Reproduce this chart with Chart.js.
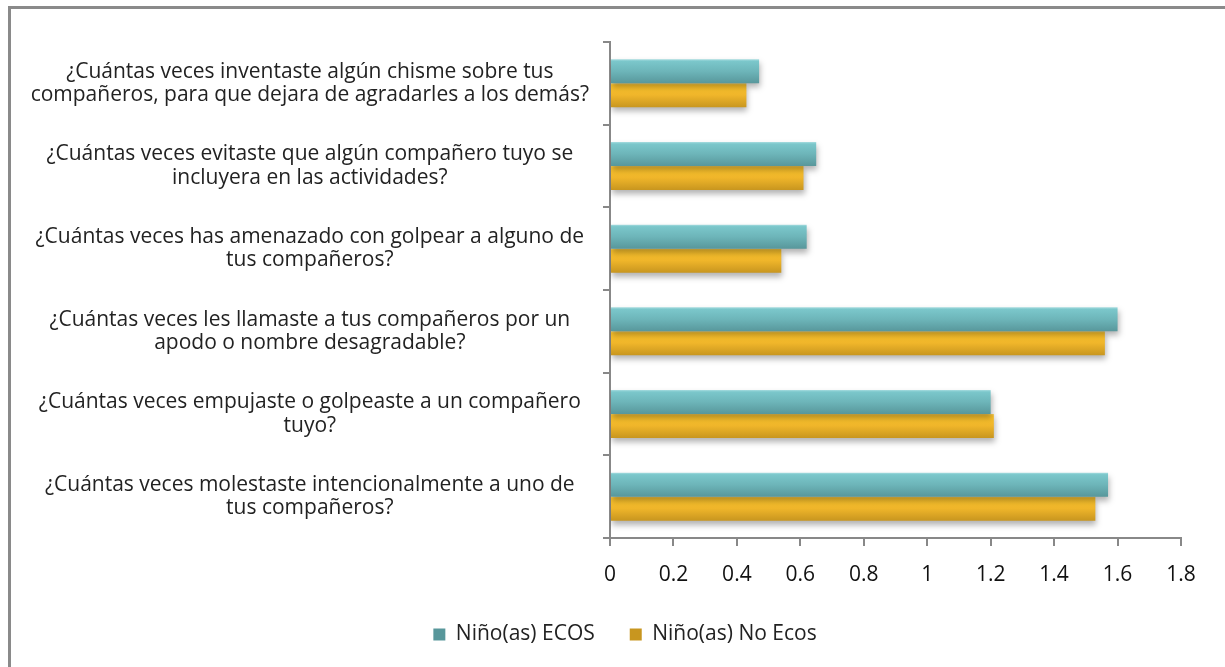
<!DOCTYPE html>
<html lang="es">
<head>
<meta charset="utf-8">
<title>Conductas de agresión</title>
<script src="https://cdn.jsdelivr.net/npm/chart.js@4"></script>
<style>
  html, body { margin: 0; padding: 0; background: #fff; }
  #wrap { position: relative; width: 1225px; height: 667px; overflow: hidden; }
  /* marco gris del recuadro */
  #frame {
    position: absolute; left: 8px; top: 6px; width: 1400px; height: 900px;
    border-top: 3px solid #8a8a8a; border-left: 3px solid #8a8a8a;
  }
  canvas { position: absolute; left: 0; top: 0; }
</style>
</head>
<body>
<div id="wrap">
  <div id="frame"></div>
  <canvas id="chart" width="1225" height="667"></canvas>
</div>
<script>
// preguntas (de arriba hacia abajo)
const preguntas = [
  ['¿Cuántas veces inventaste algún chisme sobre tus', 'compañeros, para que dejara de agradarles a los demás?'],
  ['¿Cuántas veces evitaste que algún compañero tuyo se', 'incluyera en las actividades?'],
  ['¿Cuántas veces has amenazado con golpear a alguno de', 'tus compañeros?'],
  ['¿Cuántas veces les llamaste a tus compañeros por un', 'apodo o nombre desagradable?'],
  ['¿Cuántas veces empujaste o golpeaste a un compañero', 'tuyo?'],
  ['¿Cuántas veces molestaste intencionalmente a uno de', 'tus compañeros?']
];

const ecos   = [0.47, 0.65, 0.62, 1.60, 1.20, 1.57];
const noEcos = [0.43, 0.61, 0.54, 1.56, 1.21, 1.53];

const xTicks = ['0', '0.2', '0.4', '0.6', '0.8', '1', '1.2', '1.4', '1.6', '1.8'];

const CAT_PCT = 0.58;

// degradado vertical por barra, calculado con la escala de categorías
function barFill(stops, solid) {
  return (ctx) => {
    if (ctx.type !== 'data') return solid;
    const chart = ctx.chart;
    const y = chart.scales.y;
    if (!y || !chart.chartArea) return solid;
    const slot = (y.bottom - y.top) / preguntas.length;
    const thick = slot * CAT_PCT / 2;
    const c = y.getPixelForValue(ctx.dataIndex);
    const y0 = ctx.datasetIndex === 0 ? c - thick : c;
    const g = chart.ctx.createLinearGradient(0, y0, 0, y0 + thick);
    stops.forEach(([pos, col]) => g.addColorStop(pos, col));
    return g;
  };
}

// sombra suave bajo las barras
const barShadow = {
  id: 'barShadow',
  beforeDatasetsDraw(chart) {
    const c = chart.ctx;
    c.save();
    c.shadowColor = 'rgba(0,0,0,0.3)';
    c.shadowBlur = 6;
    c.shadowOffsetX = 1;
    c.shadowOffsetY = 4;
  },
  afterDatasetsDraw(chart) {
    chart.ctx.restore();
  }
};

// la leyenda va centrada un poco más a la derecha que el lienzo
const legendShift = {
  id: 'legendShift',
  afterLayout(chart) {
    if (chart.legend) chart.legend.left += 59;
  }
};

const FONT = '"Open Sans", "DejaVu Sans", sans-serif';

new Chart(document.getElementById('chart'), {
  type: 'bar',
  data: {
    labels: preguntas,
    datasets: [
      {
        label: 'Niño(as) ECOS',
        data: ecos,
        backgroundColor: barFill([[0, '#a6dcdf'], [0.08, '#7bc7cb'], [0.5, '#6db5b9'], [1, '#58979b']], '#68adb1')
      },
      {
        label: 'Niño(as) No Ecos',
        data: noEcos,
        backgroundColor: barFill([[0, '#fdd35a'], [0.08, '#fdc42c'], [0.5, '#efb52a'], [1, '#c8961f']], '#e9b22a')
      }
    ]
  },
  options: {
    indexAxis: 'y',
    responsive: false,
    animation: false,
    barPercentage: 1,
    categoryPercentage: CAT_PCT,
    layout: { padding: { left: 10, right: 44, top: 42, bottom: 12 } },
    plugins: {
      tooltip: { enabled: false },
      legend: {
        position: 'bottom',
        labels: {
          font: { family: FONT, size: 21 },
          color: '#222',
          boxWidth: 12,
          boxHeight: 12,
          padding: 35
        }
      }
    },
    scales: {
      x: {
        min: 0,
        max: 1.8,
        afterFit: (s) => { s.height = 51; },
        ticks: {
          stepSize: 0.2,
          padding: 16,
          color: '#111',
          font: { family: FONT, size: 21 },
          callback: (v, i) => xTicks[i]
        },
        grid: { drawOnChartArea: false, tickLength: 8, color: '#888', lineWidth: 2 },
        border: { color: '#888', width: 2 }
      },
      y: {
        afterFit: (s) => { s.width = 600; },
        ticks: {
          crossAlign: 'center',
          padding: 14,
          color: '#222',
          font: { family: FONT, size: 21, lineHeight: 1.1 }
        },
        grid: { drawOnChartArea: false, tickLength: 7, color: '#888', lineWidth: 2 },
        border: { color: '#888', width: 2 }
      }
    }
  },
  plugins: [barShadow, legendShift]
});
</script>
</body>
</html>
